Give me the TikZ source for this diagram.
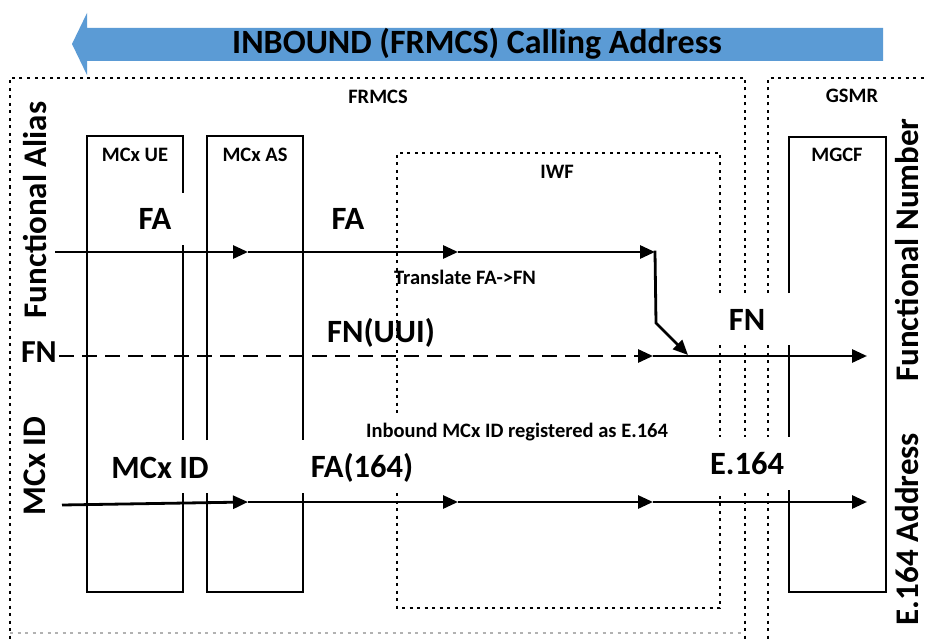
\documentclass[tikz,border=0pt]{standalone}
\usepackage{fontspec}
\setmainfont{Carlito}
\usetikzlibrary{arrows.meta}
\definecolor{arrowblue}{HTML}{5B9BD5}
\begin{document}
\begin{tikzpicture}[x=1pt,y=-1pt,
  frame/.style={line width=1.8pt,dash pattern=on 3pt off 4.5pt},
  boxline/.style={line width=1.5pt},
  flow/.style={line width=2.8pt,-{Triangle[length=15pt,width=13pt]}},
  dashflow/.style={line width=2.8pt,dash pattern=on 15pt off 8pt},
  small/.style={font=\fontsize{20.5}{23}\selectfont\bfseries,inner sep=0pt},
  big/.style={font=\fontsize{32.5}{36}\selectfont\bfseries,inner sep=0pt},
  side/.style={font=\fontsize{33}{36}\selectfont\bfseries,inner sep=0pt,rotate=90}]
\useasboundingbox (0,0) rectangle (926,639);
\fill[white] (0,0) rectangle (926,639);

% top blue arrow
\fill[arrowblue] (72,44) -- (87,13) -- (87,28) -- (883,28) -- (883,61) -- (87,61) -- (87,75) -- cycle;
\node[font=\fontsize{34}{38}\selectfont\bfseries,inner sep=0pt] (title) at (477,44) {INBOUND (FRMCS) Calling Address};

% FRMCS and GSMR frames
\draw[frame] (745,293) -- (745,78) -- (10,78) -- (10,639);
\draw[frame] (745,345) -- (745,437);
\draw[frame] (745,493) -- (745,639);
\draw[frame,black!30] (10,633) -- (745,633);
\draw[frame] (768,293) -- (768,78) -- (926,78);
\draw[frame] (768,345) -- (768,437);
\draw[frame] (768,493) -- (768,639);
\node[small] (frmcs) at (378,97) {FRMCS};
\node[small] (gsmr) at (852,96) {GSMR};

% IWF
\draw[frame] (720,293) -- (720,153) -- (397,153) -- (397,413);
\draw[frame] (397,493) -- (397,608) -- (720,608) -- (720,493);
\draw[frame] (720,345) -- (720,437);
\node[small] (iwf) at (557,172) {IWF};

% MCx UE
\draw[boxline] (183,193) -- (183,136) -- (87,136) -- (87,592) -- (183,592) -- (183,493);
\draw[boxline] (183,245) -- (183,440);
\node[small] (ue) at (135,155) {MCx UE};
% MCx AS
\draw[boxline] (207,440) -- (207,136) -- (303,136) -- (303,440);
\draw[boxline] (207,493) -- (207,592) -- (303,592) -- (303,493);
\node[small] (as) at (255,155) {MCx AS};
% MGCF
\draw[boxline] (789,293) -- (789,137) -- (886,137) -- (886,592) -- (789,592) -- (789,490);
\draw[boxline] (789,345) -- (789,437);
\node[small] (mgcf) at (837,155) {MGCF};

% side labels
\node[side] (fal) at (35,210) {Functional Alias};
\node[font=\fontsize{32}{35}\selectfont\bfseries,inner sep=0pt,anchor=east] (fnl) at (57,352) {FN};
\node[side] (mcxl) at (35,466) {MCx ID};
\node[side] (fnum) at (907,250) {Functional Number};
\node[side] (e164a) at (907,529) {E.164 Address};

% coordinates
\coordinate (a0) at (55,252);
\coordinate (a1) at (248,252);
\coordinate (a2) at (458,252);
\coordinate (a3) at (655,252);
\coordinate (a4) at (656,323);
\coordinate (a5) at (688,355);
\coordinate (b1) at (653,356);
\coordinate (b2) at (867,356);
\coordinate (c0) at (62,505);
\coordinate (c1) at (248,502);
\coordinate (c2) at (458,502);
\coordinate (c3) at (653,502);
\coordinate (c4) at (867,502);

% FA flow
\draw[flow] (a0) -- (a1);
\draw[flow] (a1) -- (a2);
\draw[flow] (a2) -- (a3);
\draw[flow,shorten <=-1.4pt] (a3) -- (a4) -- (a5);
% FN flow
\draw[dashflow] (fnl.east |- b1) ++(2,0) -- ([xshift=-12pt]b1);
\draw[flow] ([xshift=-14pt]b1) -- (b1);
\draw[flow] (b1) -- (b2);
% MCx ID flow
\draw[flow] (c0) -- (c1);
\draw[flow] (c1) -- (c2);
\draw[flow] (c2) -- (c3);
\draw[flow] (c3) -- (c4);

% labels
\node[big] (fa1) at (155,219) {FA};
\node[big] (fa2) at (348,219) {FA};
\node[small] (tr) at (465,277) {Translate FA->FN};
\node[big] (fnuui) at (381,333) {FN(UUI)};
\node[big] (fn2) at (747,320) {FN};
\node[small] (inb) at (517,432) {Inbound MCx ID registered as E.164};
\node[big] (mcxid) at (160,468) {MCx ID};
\node[big] (fa164) at (362,468) {FA(164)};
\node[big] (e164) at (747,464) {E.164};
\end{tikzpicture}
\end{document}
